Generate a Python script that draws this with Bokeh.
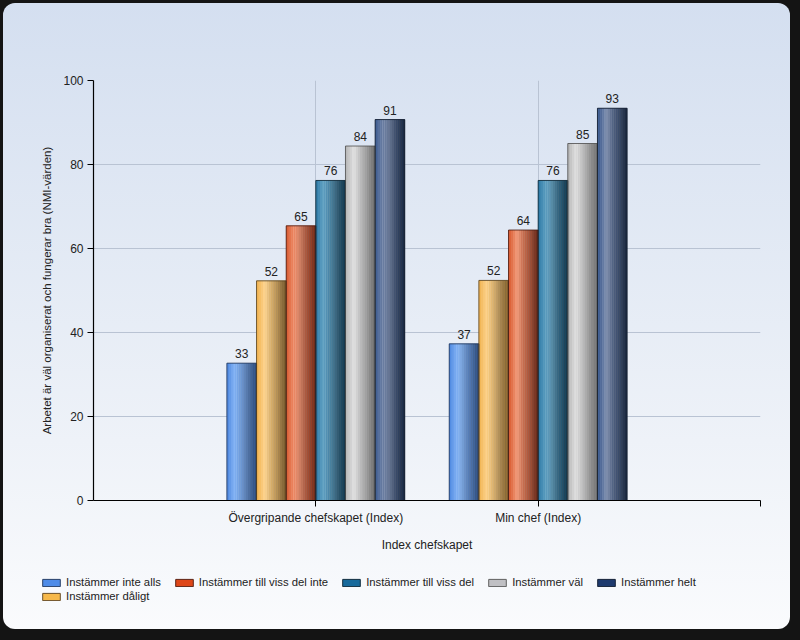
from bokeh.plotting import figure
from bokeh.models import (ColumnDataSource, Legend, LegendItem, FixedTicker, Column, Range1d)
from bokeh.core.properties import value as V
from bokeh.embed import file_html
from bokeh.resources import INLINE

# ---------------- data ----------------
categories = ["Övergripande chefskapet (Index)", "Min chef (Index)"]
series = ["Instämmer inte alls", "Instämmer dåligt", "Instämmer till viss del inte",
          "Instämmer till viss del", "Instämmer väl", "Instämmer helt"]
values = {
    "Instämmer inte alls":          [32.7, 37.3],
    "Instämmer dåligt":             [52.3, 52.4],
    "Instämmer till viss del inte": [65.4, 64.4],
    "Instämmer till viss del":      [76.2, 76.2],
    "Instämmer väl":                [84.4, 85.0],
    "Instämmer helt":               [90.7, 93.4],
}
y_ticks = [0, 20, 40, 60, 80, 100]
x_title = "Index chefskapet"
y_title = "Arbetet är väl organiserat och fungerar bra (NMI-värden)"
legend_row1 = ["Instämmer inte alls", "Instämmer till viss del inte", "Instämmer till viss del",
               "Instämmer väl", "Instämmer helt"]
legend_row2 = ["Instämmer dåligt"]

# ---------------- style ----------------
# (left edge, highlight, dark edge, swatch)
palette = {
    "Instämmer inte alls":          ("#4a86e0", "#8dbaf6", "#2c4773", "#4f8ce8"),
    "Instämmer dåligt":             ("#f0b24e", "#fdd592", "#76582c", "#f6b84a"),
    "Instämmer till viss del inte": ("#d65a30", "#f29c7c", "#662818", "#de4618"),
    "Instämmer till viss del":      ("#2a78a6", "#6eaac8", "#143346", "#176a9c"),
    "Instämmer väl":                ("#b4b4b4", "#e2e2e2", "#6c6c6c", "#c0c0c4"),
    "Instämmer helt":               ("#3a5a90", "#8292b2", "#18263d", "#1e3a6e"),
}
FONT = "Liberation Sans"
TXT = "#222222"
NSTRIP = 14
bar_w = 0.8 / len(series)


def hx(c):
    c = c.lstrip("#")
    return [int(c[i:i + 2], 16) for i in (0, 2, 4)]


def mix(a, b, t):
    a, b = hx(a), hx(b)
    return "#%02x%02x%02x" % tuple(int(round(a[i] + (b[i] - a[i]) * t)) for i in range(3))


def strip_color(s, t):
    left, hi, dark, _ = palette[s]
    if t < 0.28:
        return mix(left, hi, t / 0.28)
    return mix(hi, dark, (t - 0.28) / 0.72)


cat_x = [i + 1 for i in range(len(categories))]

MAIN_H = 560
p = figure(width=787, height=MAIN_H, output_backend="svg", toolbar_location=None,
           x_range=Range1d(0, 3), y_range=Range1d(0, 100),
           min_border_left=90, min_border_right=30, min_border_top=77,
           min_border_bottom=MAIN_H - 497)
p.border_fill_alpha = 0
p.background_fill_alpha = 0
p.outline_line_color = None

base_sources = {}
label_sources = []
sx, stop, scol = [], [], []
for j, s in enumerate(series):
    off = (j - (len(series) - 1) / 2) * bar_w
    xs = [c + off for c in cat_x]
    src = ColumnDataSource(dict(x=xs, top=values[s], lab=[f"{v:.0f}" for v in values[s]]))
    base_sources[s] = src
    p.vbar(x="x", top="top", bottom=0, width=bar_w, source=src,
           fill_color=palette[s][3], line_color=None)
    label_sources.append(src)
    for k in range(NSTRIP):
        t = (k + 0.5) / NSTRIP
        for xi, v in zip(xs, values[s]):
            sx.append(xi - bar_w / 2 + t * bar_w)
            stop.append(v)
            scol.append(strip_color(s, t))

strips = ColumnDataSource(dict(x=sx, top=stop, c=scol))
p.vbar(x="x", top="top", bottom=0, width=bar_w / NSTRIP * 1.06, source=strips,
       fill_color="c", line_color=None)
for s in series:
    p.vbar(x="x", top="top", bottom=0, width=bar_w, source=base_sources[s],
           fill_color=None, line_color=mix(palette[s][2], "#000000", 0.3), line_width=1, line_alpha=0.8)
for src in label_sources:
    p.text(x="x", y="top", text="lab", source=src, text_align="center", text_baseline="bottom",
           y_offset=-5, text_font=V(FONT), text_font_size="12px", text_color=TXT)

# axes
p.xaxis.ticker = FixedTicker(ticks=[1, 2, 3])
p.xaxis.major_label_overrides = {1: categories[0], 2: categories[1], 3: ""}
p.yaxis.ticker = FixedTicker(ticks=y_ticks)
for ax in (p.xaxis[0], p.yaxis[0]):
    ax.axis_line_color = "#000000"
    ax.axis_line_width = 1.2
    ax.major_tick_line_color = "#000000"
    ax.major_tick_in = 0
    ax.major_tick_out = 6
    ax.minor_tick_line_color = None
    ax.major_label_text_font = FONT
    ax.major_label_text_color = TXT
    ax.axis_label_text_font = FONT
    ax.axis_label_text_font_style = "normal"
    ax.axis_label_text_color = TXT
p.xaxis.major_label_text_font_size = "12px"
p.yaxis.major_label_text_font_size = "12px"
p.xaxis.axis_label = x_title
p.yaxis.axis_label = y_title
p.xaxis.axis_label_text_font_size = "12px"
p.yaxis.axis_label_text_font_size = "11.5px"
p.xaxis.major_label_standoff = 4
p.xaxis.axis_label_standoff = 10
p.yaxis.major_label_standoff = 4
p.yaxis.axis_label_standoff = 7

p.xgrid.ticker = FixedTicker(ticks=[1, 2, 3])
p.grid.grid_line_color = "#b9c3d3"
p.grid.grid_line_width = 1
p.ygrid.ticker = FixedTicker(ticks=y_ticks)

# ---------------- legend strip (separate transparent figure) ----------------
LEG_H = 626 - MAIN_H
lf = figure(width=787, height=LEG_H, output_backend="svg", toolbar_location=None,
            x_range=Range1d(0, 3), y_range=Range1d(1000, 1001),
            x_axis_type=None, y_axis_type=None,
            min_border_left=0, min_border_right=0, min_border_top=0, min_border_bottom=0)
lf.border_fill_alpha = 0
lf.background_fill_alpha = 0
lf.outline_line_color = None
lf.grid.visible = False

leg_renderers = {}
for s in series:
    leg_renderers[s] = lf.vbar(x="x", top="top", bottom=0, width=bar_w, source=base_sources[s],
                               fill_color=palette[s][3],
                               line_color=mix(palette[s][2], "#000000", 0.1), line_width=1)


def make_legend(names, loc):
    return Legend(items=[LegendItem(label=s, renderers=[leg_renderers[s]]) for s in names],
                  location=loc, orientation="horizontal",
                  glyph_width=22, glyph_height=9, label_standoff=4, spacing=12,
                  label_height=12, padding=0, margin=0,
                  border_line_color=None, background_fill_alpha=0,
                  label_text_font=FONT, label_text_font_size="11.3px", label_text_color=TXT)


# bottom-left corner in px from the strip's bottom-left
lf.add_layout(make_legend(legend_row1, (37, 41)))
lf.add_layout(make_legend(legend_row2, (37, 27)))

leg_box = Column(lf, width=787, height=LEG_H, sizing_mode="fixed")
panel = Column(p, leg_box, width=787, height=626, sizing_mode="fixed", spacing=0,
               margin=(3, 10, 11, 3),
               styles={"background": "linear-gradient(to bottom, #d4dff0 0%, #eef2f8 70%, #fafbfd 100%)",
                       "border-radius": "12px"})
page = Column(panel, width=800, height=640, sizing_mode="fixed",
              styles={"background-color": "#141414"})

open("out.html", "w").write(file_html(page, INLINE))
